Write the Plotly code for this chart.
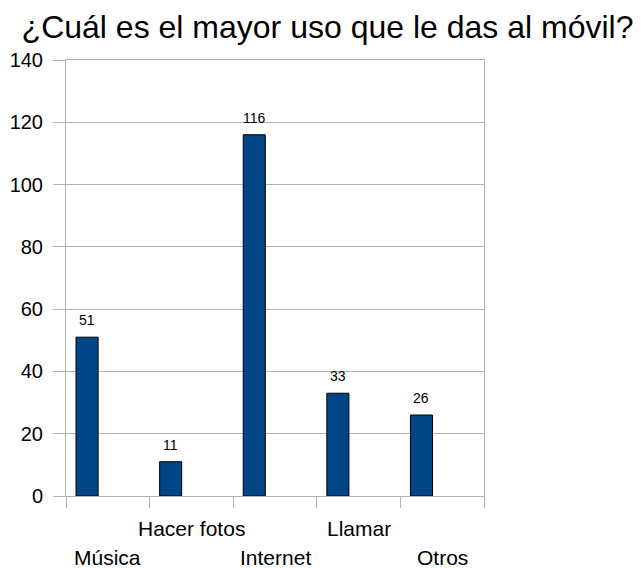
import plotly.graph_objects as go

categories = ["Música", "Hacer fotos", "Internet", "Llamar", "Otros"]
values = [51, 11, 116, 33, 26]
title_text = "¿Cuál es el mayor uso que le das al móvil?"
y_ticks = [0, 20, 40, 60, 80, 100, 120, 140]

BAR_W = 0.264
BAR_OFF = -0.38

fig = go.Figure()
fig.add_trace(go.Bar(
    x=categories, y=values,
    width=BAR_W, offset=BAR_OFF,
    marker=dict(color="#004586", line=dict(color="#000000", width=1)),
    cliponaxis=False,
))

annotations = []
for i, c in enumerate(categories):
    annotations.append(dict(
        x=i, y=-0.0734 if i % 2 == 1 else -0.140, xref="x", yref="paper",
        text=c, showarrow=False, yanchor="middle", xanchor="center",
        font=dict(size=21, color="#000000", family="Liberation Sans"),
    ))
for i, v in enumerate(values):
    annotations.append(dict(
        x=i + BAR_OFF + BAR_W / 2, y=v, xref="x", yref="y",
        text=str(v), showarrow=False, yanchor="bottom", xanchor="center",
        yshift=7,
        font=dict(size=14, color="#000000", family="Liberation Sans"),
    ))

fig.update_layout(
    width=634, height=560,
    margin=dict(l=58, r=158, t=52, b=72),
    paper_bgcolor="white", plot_bgcolor="white",
    title=dict(text=title_text, x=0.504, xanchor="center", y=0.967, yanchor="middle",
               font=dict(size=32, color="#000000", family="Liberation Sans")),
    showlegend=False,
    annotations=annotations,
    font=dict(family="Liberation Sans"),
)
fig.update_xaxes(
    type="category",
    range=[-0.5, len(categories) - 0.5],
    showticklabels=False,
    showgrid=False, showline=True, linecolor="#b3b3b3", linewidth=1, mirror=True,
    ticks="outside", ticklen=11, tickcolor="#b3b3b3", tickson="boundaries",
    zeroline=False, automargin=False,
)
fig.update_yaxes(
    range=[0, 140], tickvals=y_ticks,
    showgrid=True, gridcolor="#b3b3b3", gridwidth=1,
    showline=True, linecolor="#b3b3b3", linewidth=1, mirror=True,
    ticks="outside", ticklen=12, tickcolor="#b3b3b3",
    ticklabelstandoff=6,
    tickfont=dict(size=20, color="#000000", family="Liberation Sans"),
    zeroline=False, automargin=False,
)
fig.write_html("out.html")
